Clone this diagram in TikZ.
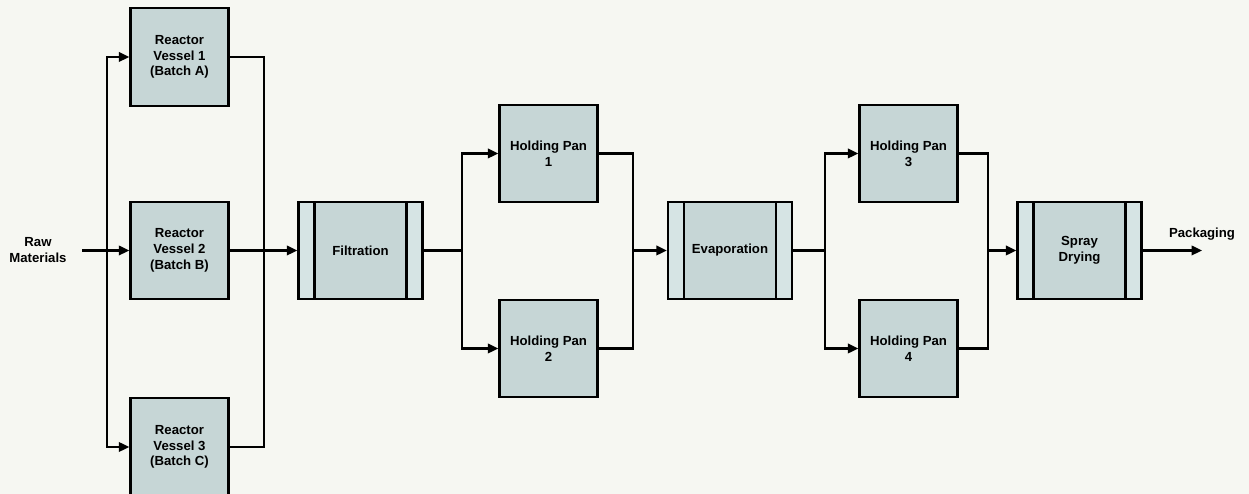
\documentclass[tikz,border=0pt]{standalone}
\usepackage{fontspec}
\setmainfont{Liberation Sans}
\usetikzlibrary{arrows.meta,calc}
\definecolor{PaperClr}{RGB}{246,247,242}
\definecolor{BoxClr}{RGB}{198,214,214}
\definecolor{StripClr}{RGB}{214,228,228}

\begin{document}
\begin{tikzpicture}[
  font=\bfseries\fontsize{7.5}{9}\selectfont,
  unit/.style={draw=black,line width=1.4pt,fill=BoxClr,align=center,
    minimum width=1.96cm,minimum height=1.95cm,inner sep=0pt},
  process/.style={unit,minimum width=2.48cm,
    path picture={
      \fill[StripClr] (path picture bounding box.north west) rectangle
        ([xshift=.32cm]path picture bounding box.south west);
      \fill[StripClr] (path picture bounding box.north east) rectangle
        ([xshift=-.32cm]path picture bounding box.south east);
      \draw[line width=1.4pt] ([xshift=.32cm]path picture bounding box.north west)
        -- ([xshift=.32cm]path picture bounding box.south west);
      \draw[line width=1.4pt] ([xshift=-.32cm]path picture bounding box.north east)
        -- ([xshift=-.32cm]path picture bounding box.south east);}},
  label/.style={align=center,inner sep=0pt},
  flow/.style={line width=1.3pt,-{Triangle[length=2.1mm,width=1.9mm]}},
  pipe/.style={line width=1.3pt}]

\fill[PaperClr] (0,0) rectangle (24.98,9.88);
\useasboundingbox (0,0) rectangle (24.98,9.88);

% feed and reactors
\node[label,text width=1.2cm] (raw) at (0.76,4.88) {Raw\\Materials};
\node[unit] (rv1) at (3.59,8.74) {Reactor\\Vessel 1\\(Batch A)};
\node[unit] (rv2) at (3.59,4.87) {Reactor\\Vessel 2\\(Batch B)};
\node[unit] (rv3) at (3.59,0.94) {Reactor\\Vessel 3\\(Batch C)};

% main line
\node[process] (filt) at (7.21,4.87) {Filtration};
\node[unit] (hp1) at (10.97,6.81) {Holding Pan\\1};
\node[unit] (hp2) at (10.97,2.91) {Holding Pan\\2};
\node[process] (evap) at (14.60,4.87) {Evaporation};
\node[unit] (hp3) at (18.17,6.81) {Holding Pan\\3};
\node[unit] (hp4) at (18.17,2.91) {Holding Pan\\4};
\node[process] (spray) at (21.59,4.87) {Spray\\Drying};
\node[label] (pack) at (24.04,5.20) {Packaging};

% split and merge points
\coordinate (in) at (1.64,4.87);
\coordinate (sp1) at (2.14,4.87);
\coordinate (mg1) at (5.28,4.87);
\coordinate (sp2) at (9.24,4.87);
\coordinate (mg2) at (12.66,4.87);
\coordinate (sp3) at (16.50,4.87);
\coordinate (mg3) at (19.76,4.87);
\coordinate (out) at (24.04,4.87);

\draw[flow] (in) -- (rv2);
\draw[flow] (sp1) |- (rv1);
\draw[flow] (sp1) |- (rv3);
\draw[pipe] (rv1) -| (mg1) |- (rv3);
\draw[flow] (rv2) -- (filt);

\draw[pipe] (filt) -- (sp2);
\draw[flow] (sp2) |- (hp1);
\draw[flow] (sp2) |- (hp2);
\draw[pipe] (hp1) -| (mg2) |- (hp2);
\draw[flow] (mg2) -- (evap);

\draw[pipe] (evap) -- (sp3);
\draw[flow] (sp3) |- (hp3);
\draw[flow] (sp3) |- (hp4);
\draw[pipe] (hp3) -| (mg3) |- (hp4);
\draw[flow] (mg3) -- (spray);

\draw[flow] (spray) -- (out);

\end{tikzpicture}
\end{document}
